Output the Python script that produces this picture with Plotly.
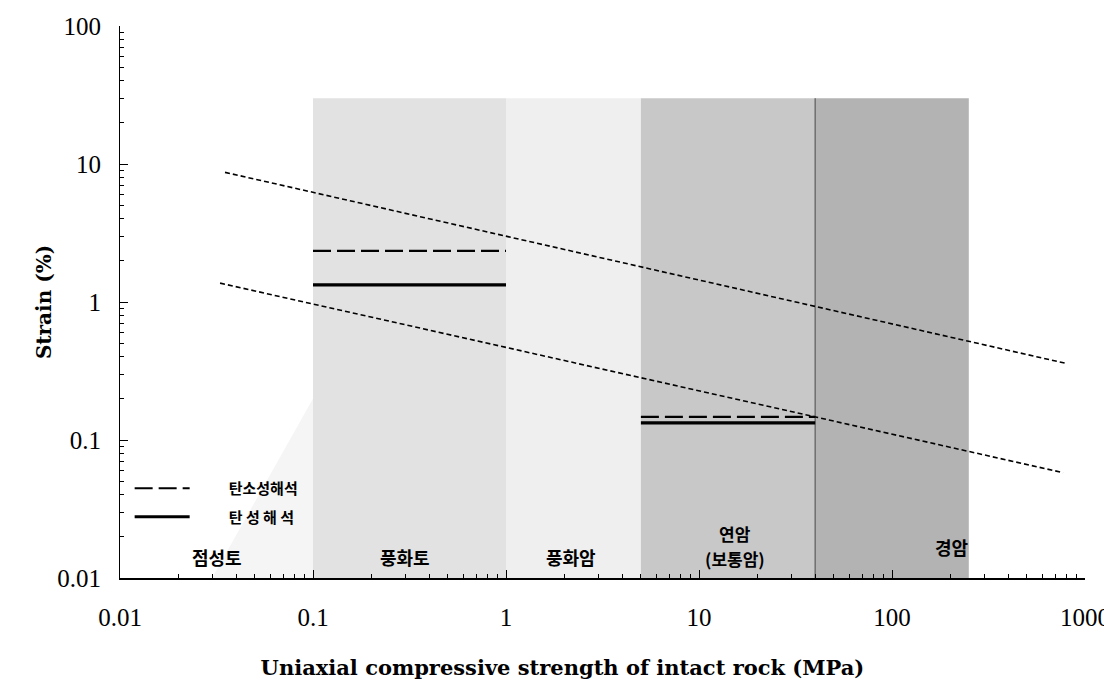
import numpy as np
import plotly.graph_objects as go

# ---------------- data ----------------
# Hoek-type sloped bands (strain vs. uniaxial compressive strength)
upper_x = [0.035, 790]
upper_y = [8.7, 0.36]
lower_x = [0.033, 770]
lower_y = [1.37, 0.058]

# analysis results (horizontal segments)
ep_x = [0.1, 1.0, None, 5.0, 40.0]        # 탄소성해석
ep_y = [2.35, 2.35, None, 0.147, 0.147]
el_x = [0.1, 1.0, None, 5.0, 40.0]        # 탄성해석
el_y = [1.33, 1.33, None, 0.133, 0.133]

# ground classification zones
zone_edges = [0.1, 1.0, 5.0, 40.0, 250.0]
zone_top = 30.0
zone_colors = ["#e2e2e2", "#efefef", "#c8c8c8", "#b3b3b3"]

zone_labels = ["점성토", "풍화토", "풍화암", "연암", "(보통암)", "경암"]
zone_label_x = [0.032, 0.30, 2.17, 15.4, 15.4, 205]
zone_label_y = [0.0142, 0.0142, 0.0142, 0.0210, 0.01374, 0.0168]
zone_label_size = [18, 18, 18, 17, 17, 18]

x_ticks = [0.01, 0.1, 1, 10, 100, 1000]
x_ticktext = ["0.01", "0.1", "1", "10", "100", "1000"]
y_ticks = [0.01, 0.1, 1, 10, 100]
y_ticktext = ["0.01", "0.1", "1", "10", "100"]

# ---------------- figure ----------------
fig = go.Figure()

# faint stipple fading below the soil zone
fig.add_trace(go.Scatter(
    x=[0.03, 0.1, 0.1, 0.03], y=[0.01, 0.01, 0.2, 0.01],
    fill="toself", fillcolor="#f5f5f5", mode="lines",
    line=dict(width=0), hoverinfo="skip", showlegend=False))

for i in range(len(zone_edges) - 1):
    x0, x1 = zone_edges[i], zone_edges[i + 1]
    fig.add_trace(go.Scatter(
        x=[x0, x1, x1, x0, x0], y=[0.01, 0.01, zone_top, zone_top, 0.01],
        fill="toself", fillcolor=zone_colors[i], mode="lines",
        line=dict(width=0), hoverinfo="skip", showlegend=False))

# boundary line at soft/hard rock
fig.add_trace(go.Scatter(
    x=[zone_edges[3], zone_edges[3]], y=[0.01, zone_top], mode="lines",
    line=dict(color="#6e6e6e", width=1.5), hoverinfo="skip", showlegend=False))

fig.add_trace(go.Scatter(
    x=upper_x, y=upper_y, mode="lines",
    line=dict(color="black", width=1.6, dash="5px,3px"),
    showlegend=False))
fig.add_trace(go.Scatter(
    x=lower_x, y=lower_y, mode="lines",
    line=dict(color="black", width=1.6, dash="5px,3px"),
    showlegend=False))

pad = "\u00a0" * 10
fig.add_trace(go.Scatter(
    x=ep_x, y=ep_y, mode="lines", name=pad + "탄소성해석", legendgroup="a",
    line=dict(color="black", width=2.2, dash="18px,6px")))
fig.add_trace(go.Scatter(
    x=el_x, y=el_y, mode="lines", name=pad + "탄 성 해 석", legendgroup="b",
    line=dict(color="black", width=3.2)))

for t, xv, yv, fs in zip(zone_labels, zone_label_x, zone_label_y, zone_label_size):
    fig.add_annotation(
        x=np.log10(xv), y=np.log10(yv), xref="x", yref="y",
        text="<b>%s</b>" % t, showarrow=False,
        font=dict(family="Noto Sans CJK KR", size=fs, color="black"))

serif = "Liberation Serif"
fig.update_xaxes(
    type="log", range=[-2, 3], automargin=False,
    tickmode="array", tickvals=x_ticks, ticktext=x_ticktext,
    ticks="inside", ticklen=8, tickwidth=1, tickcolor="black",
    ticklabelstandoff=16,
    minor=dict(ticks="inside", ticklen=4, tickcolor="black", dtick="D1", showgrid=False),
    showline=True, linecolor="black", linewidth=1.5, mirror=False,
    showgrid=False, zeroline=False,
    tickfont=dict(family=serif, size=25, color="black"),
    title=dict(text="<b>Uniaxial compressive strength of intact rock (MPa)</b>"
                    + "\u00a0" * 12 + "\u200b",
               font=dict(family="DejaVu Serif", size=21, color="black"), standoff=31))
fig.update_yaxes(
    type="log", range=[-2, 2], automargin=False,
    tickmode="array", tickvals=y_ticks, ticktext=y_ticktext,
    ticks="inside", ticklen=8, tickwidth=1, tickcolor="black",
    ticklabelstandoff=13,
    minor=dict(ticks="inside", ticklen=4, tickcolor="black", dtick="D1", showgrid=False),
    showline=True, linecolor="black", linewidth=1, mirror=False,
    showgrid=False, zeroline=False,
    tickfont=dict(family=serif, size=25, color="black"),
    title=dict(text="<b>Strain (%)</b>",
               font=dict(family="DejaVu Serif", size=20, color="black"), standoff=0))

# the page adds an 8px body margin, so the figure is sized to the remaining area
fig.update_layout(
    width=1104, height=676,
    margin=dict(l=112, r=27, t=18, b=106),
    plot_bgcolor="white", paper_bgcolor="white",
    legend=dict(x=0.010, y=0.192, xanchor="left", yanchor="top",
                bgcolor="rgba(0,0,0,0)", tracegroupgap=6, itemwidth=55,
                font=dict(family="Noto Sans CJK KR", size=15, color="black", weight="bold")),
)

fig.write_html("out.html")
